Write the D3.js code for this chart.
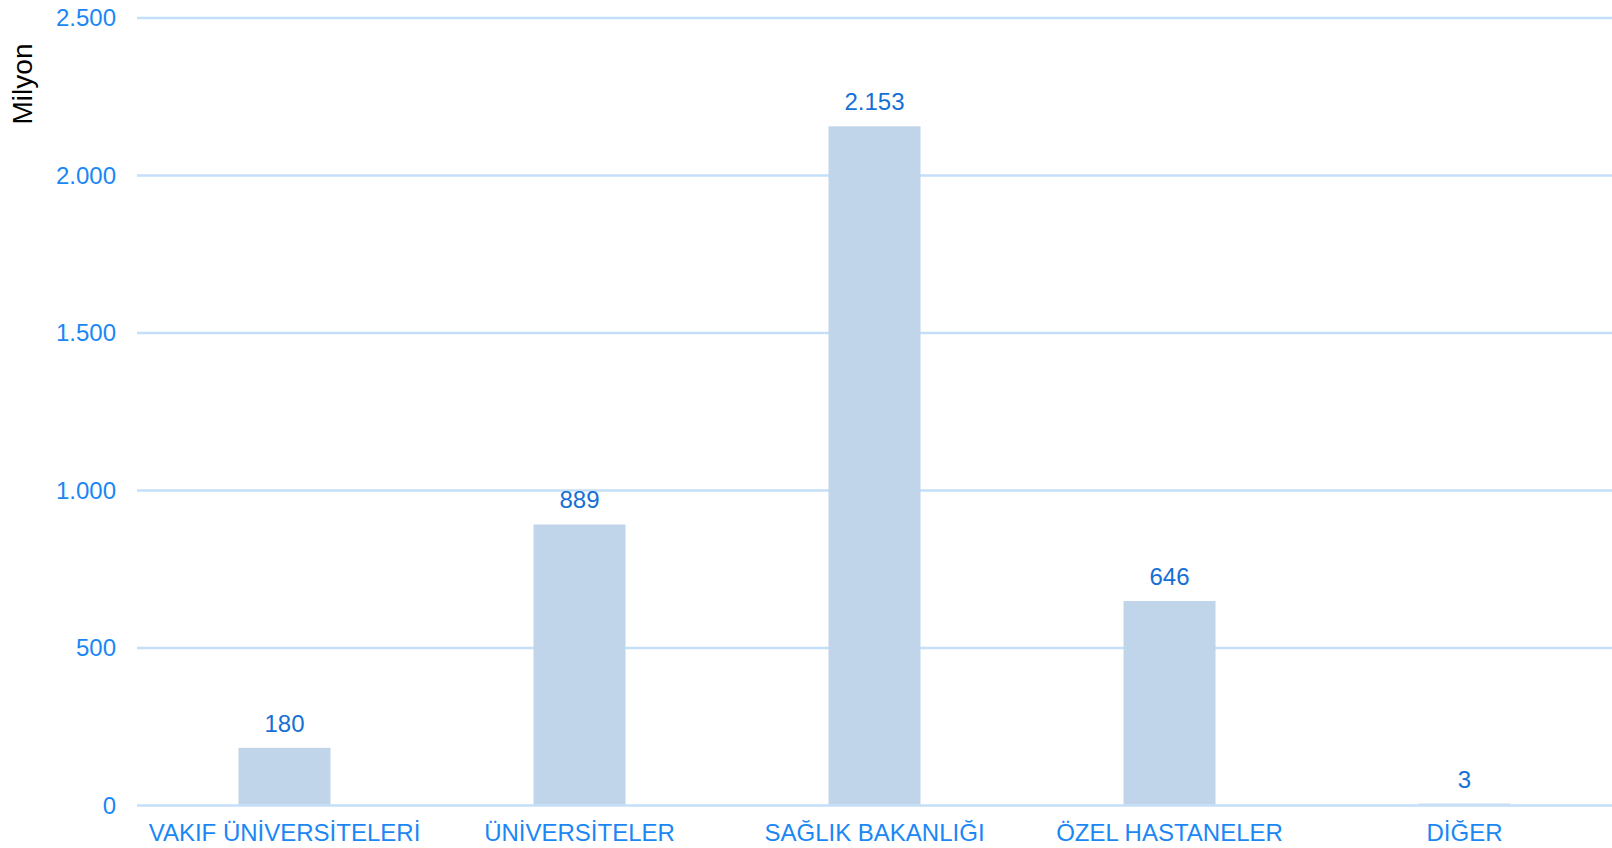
<!DOCTYPE html>
<html>
<head>
<meta charset="utf-8">
<script src="https://cdn.jsdelivr.net/npm/d3@7"></script>
<style>
  body { margin: 0; background: #fff; }
  text { font-family: "Liberation Sans", Arial, sans-serif; }
</style>
</head>
<body>
<div id="chart"></div>
<script>
// chart values
var categories = ['VAKIF ÜNİVERSİTELERİ', 'ÜNİVERSİTELER', 'SAĞLIK BAKANLIĞI', 'ÖZEL HASTANELER', 'DİĞER']
var values = [180, 889, 2153, 646, 3]
var yTicks = [0, 500, 1000, 1500, 2000, 2500]
var yTitle = 'Milyon'

var width = 1612, height = 848
var margin = { top: 18, right: 0, bottom: 42.5, left: 137 }

var svg = d3.select('#chart')
    .append('svg')
    .attr('width', width)
    .attr('height', height)

var x = d3.scaleBand()
    .domain(categories)
    .range([margin.left, width - margin.right])
    .paddingInner(0.688)
    .paddingOuter(0.344)

var y = d3.scaleLinear()
    .domain([0, 2500])
    .range([height - margin.bottom, margin.top])

// number format with dot as thousands separator
var fmt = function (v) { return d3.format(',')(v).replace(/,/g, '.') }

// grid lines
svg.append('g')
    .selectAll('line')
    .data(yTicks)
    .enter()
    .append('line')
    .attr('x1', margin.left)
    .attr('x2', width)
    .attr('y1', function (d) { return y(d) })
    .attr('y2', function (d) { return y(d) })
    .attr('stroke', '#c5dff9')
    .attr('stroke-width', 2.5)

// y tick labels
svg.append('g')
    .selectAll('text')
    .data(yTicks)
    .enter()
    .append('text')
    .attr('x', 116)
    .attr('y', function (d) { return y(d) })
    .attr('dy', '0.34em')
    .attr('text-anchor', 'end')
    .style('font-size', '24px')
    .style('fill', '#1a87f5')
    .text(function (d) { return fmt(d) })

// bars
svg.append('g')
    .selectAll('rect')
    .data(values)
    .enter()
    .append('rect')
    .attr('x', function (d, i) { return x(categories[i]) })
    .attr('width', x.bandwidth())
    .attr('y', function (d) { return y(d) - 1 })
    .attr('height', function (d) { return y(0) - y(d) })
    .style('fill', '#c0d5ea')

// value labels
svg.append('g')
    .selectAll('text')
    .data(values)
    .enter()
    .append('text')
    .attr('x', function (d, i) { return x(categories[i]) + x.bandwidth() / 2 })
    .attr('y', function (d) { return y(d) - 17 })
    .attr('text-anchor', 'middle')
    .style('font-size', '24px')
    .style('fill', '#1570d6')
    .text(function (d) { return fmt(d) })

// category labels
svg.append('g')
    .selectAll('text')
    .data(categories)
    .enter()
    .append('text')
    .attr('x', function (d) { return x(d) + x.bandwidth() / 2 })
    .attr('y', 841)
    .attr('text-anchor', 'middle')
    .style('font-size', '24px')
    .style('fill', '#1a87f5')
    .text(function (d) { return d })

// y axis title
svg.append('text')
    .attr('transform', 'translate(32,84) rotate(-90)')
    .attr('text-anchor', 'middle')
    .style('font-size', '28px')
    .style('fill', '#000')
    .text(yTitle)
</script>
</body>
</html>
